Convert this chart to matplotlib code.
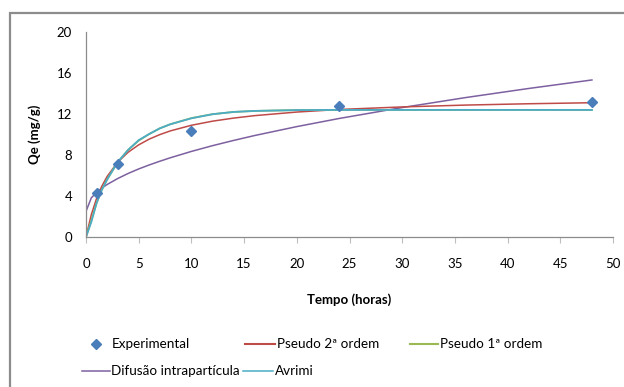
import matplotlib
matplotlib.use("Agg")
from matplotlib import pyplot as plt
from matplotlib.lines import Line2D
from matplotlib.patches import Rectangle

plt.rcParams['font.family'] = ['Lato', 'DejaVu Sans']

# dados experimentais
t_exp = [1, 3, 10, 24, 48]
q_exp = [4.3, 7.1, 10.3, 12.8, 13.2]

# curvas dos modelos
t_fit = [0, 0.5, 1, 1.5, 2, 3, 4, 5, 6, 7, 8, 10, 12, 14, 16, 20, 24, 30, 36, 42, 48]
q_p2 = [0, 2.17, 3.75, 4.95, 5.90, 7.29, 8.27, 8.99, 9.55, 9.99, 10.35, 10.9,
        11.30, 11.60, 11.84, 12.19, 12.44, 12.69, 12.87, 13.00, 13.10]
q_p1 = [0, 1.6, 3.3, 4.6, 5.6, 7.3, 8.5, 9.4, 10.05, 10.6, 11.0, 11.6,
        11.98, 12.2, 12.3, 12.38, 12.40, 12.40, 12.40, 12.40, 12.40]
q_dif = [2.5, 3.81, 4.35, 4.77, 5.12, 5.70, 6.20, 6.64, 7.03, 7.39, 7.73, 8.35,
         8.91, 9.42, 9.90, 10.77, 11.56, 12.63, 13.60, 14.49, 15.32]
q_avr = [0, 1.45, 3.3, 4.6, 5.6, 7.3, 8.5, 9.45, 10.05, 10.6, 11.0, 11.58,
         11.98, 12.2, 12.3, 12.38, 12.40, 12.40, 12.40, 12.40, 12.40]

c_exp = '#4A7EBB'
c_p2 = '#BE4B48'
c_p1 = '#98B954'
c_dif = '#7D60A0'
c_avr = '#4BACC6'

W, H = 624, 387
fig = plt.figure(figsize=(6.24, 3.87), dpi=100)
ax = fig.add_axes([86/W, 1-237/H, (613-86)/W, (237-32)/H])

ax.plot(t_fit, q_dif, color=c_dif, lw=1.1)
ax.plot(t_fit, q_p2, color=c_p2, lw=1.1)
ax.plot(t_fit, q_p1, color=c_p1, lw=1.3)
ax.plot(t_fit, q_avr, color=c_avr, lw=1.3)
ax.plot(t_exp, q_exp, 'D', color=c_exp, ms=5.5, ls='none')

ax.set_xlim(0, 50)
ax.set_ylim(0, 20)
ax.set_xticks(range(0, 51, 5))
ax.set_yticks(range(0, 21, 4))
for s in ['top', 'right']:
    ax.spines[s].set_visible(False)
for s in ['left', 'bottom']:
    ax.spines[s].set_color('#8C8C8C')
    ax.spines[s].set_linewidth(0.9)
ax.tick_params(axis='x', length=4, color='#BFBFBF', labelsize=9.5, pad=11)
ax.tick_params(axis='y', length=0, labelsize=9.5, pad=10)
ax.set_xlabel('Tempo (horas)', fontsize=9.5, fontweight='bold', labelpad=17)
ax.set_ylabel('Qe (mg/g)', fontsize=9.5, fontweight='bold', labelpad=11)

# legenda (duas linhas, posicoes como no Excel)
def px(x, y):
    return x / W, 1 - y / H

def leg_line(x0, x1, y, cor, lw):
    (a, b), (c, _) = px(x0, y), px(x1, y)
    fig.add_artist(Line2D([a, c], [b, b], color=cor, lw=lw, transform=fig.transFigure))

def leg_text(x, y, s):
    fig.text(*px(x, y), s, fontsize=9.7, va='center', ha='left')

fig.add_artist(Line2D([px(96, 344)[0]], [px(96, 344)[1]], marker='D', color=c_exp,
                      ms=5, ls='none', transform=fig.transFigure))
leg_text(112, 344, 'Experimental')
leg_line(245, 275, 344, c_p2, 1.5)
leg_text(277, 344, 'Pseudo 2ª ordem')
leg_line(410, 438, 344, c_p1, 1.5)
leg_text(440, 344, 'Pseudo 1ª ordem')
leg_line(82, 110, 371, c_dif, 1.1)
leg_text(111, 371, 'Difusão intrapartícula')
leg_line(243, 273, 371, c_avr, 1.1)
leg_text(275, 371, 'Avrimi')

# moldura do grafico
fig.patches.append(Rectangle((10/W, -0.05), 1.0, 1-13/H+0.05, transform=fig.transFigure,
                             fill=False, edgecolor='#8C8C8C', lw=1.6))

fig.savefig('out.png', dpi=100)
